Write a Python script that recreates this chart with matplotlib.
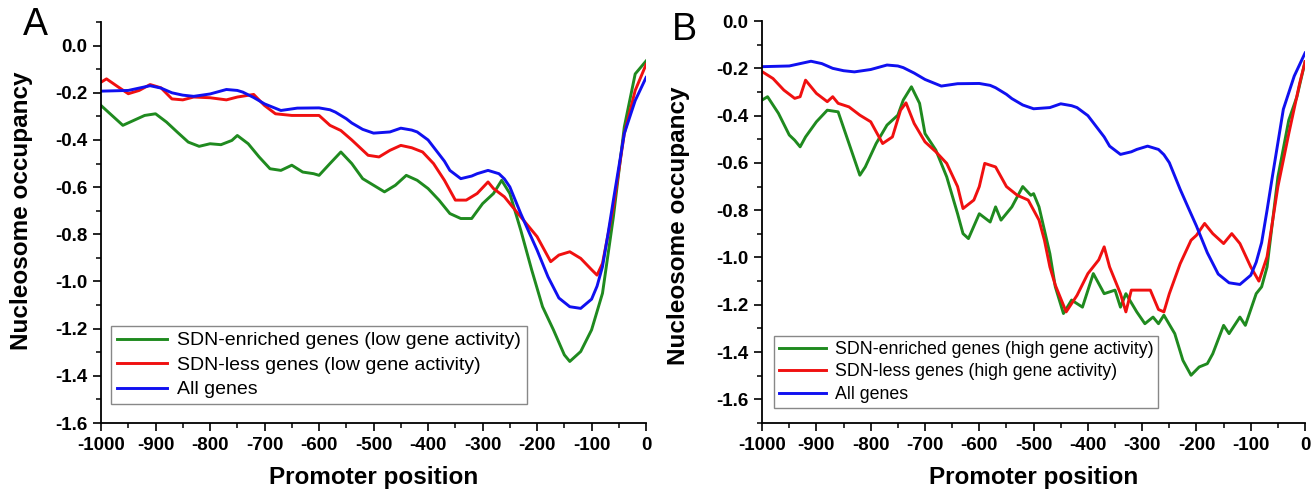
import matplotlib
matplotlib.use("Agg")
import matplotlib.pyplot as plt
from matplotlib.ticker import MultipleLocator

# promoter position / occupancy
all_x = [-1000, -950, -910, -890, -870, -850, -830, -800, -770, -750, -740, -720, -700, -670,
         -640, -600, -580, -570, -550, -540, -520, -500, -470, -450, -430, -420, -400, -390,
         -370, -360, -340, -320, -310, -290, -270, -260, -250, -230, -215, -200, -180, -160,
         -140, -120, -100, -90, -80, -70, -60, -40, -20, 0]
all_y = [-0.193, -0.19, -0.17, -0.18, -0.20, -0.21, -0.215, -0.205, -0.186, -0.19, -0.197,
         -0.22, -0.247, -0.275, -0.265, -0.264, -0.272, -0.282, -0.31, -0.328, -0.355, -0.371,
         -0.366, -0.35, -0.358, -0.366, -0.40, -0.43, -0.49, -0.529, -0.564, -0.553, -0.543,
         -0.529, -0.543, -0.565, -0.599, -0.712, -0.79, -0.867, -0.98, -1.07, -1.107, -1.114,
         -1.075, -1.02, -0.937, -0.80, -0.655, -0.373, -0.233, -0.135]

a_red_x = [-1000, -990, -970, -950, -930, -910, -890, -870, -850, -830, -800, -770, -750, -720,
           -700, -680, -650, -630, -600, -580, -560, -540, -510, -490, -470, -450, -430, -410,
           -390, -370, -350, -330, -310, -290, -280, -260, -240, -220, -200, -175, -160, -140,
           -120, -100, -90, -80, -60, -40, -20, 0]
a_red_y = [-0.155, -0.141, -0.173, -0.204, -0.19, -0.165, -0.179, -0.226, -0.23, -0.218, -0.221,
           -0.23, -0.218, -0.207, -0.254, -0.289, -0.296, -0.296, -0.296, -0.338, -0.36, -0.40,
           -0.465, -0.472, -0.444, -0.423, -0.433, -0.451, -0.50, -0.571, -0.655, -0.655, -0.627,
           -0.578, -0.606, -0.641, -0.698, -0.754, -0.81, -0.916, -0.888, -0.874, -0.902, -0.95,
           -0.973, -0.923, -0.684, -0.373, -0.19, -0.08]

a_green_x = [-1000, -980, -960, -940, -920, -900, -880, -860, -840, -820, -800, -780, -760, -750,
             -730, -710, -690, -670, -650, -630, -610, -600, -580, -560, -540, -520, -500, -480,
             -460, -440, -420, -400, -380, -360, -340, -320, -300, -280, -265, -250, -230, -210,
             -190, -170, -150, -140, -120, -100, -80, -60, -40, -20, 0]
a_green_y = [-0.254, -0.296, -0.338, -0.317, -0.296, -0.289, -0.324, -0.367, -0.409, -0.427, -0.416,
             -0.42, -0.402, -0.381, -0.416, -0.472, -0.522, -0.529, -0.507, -0.536, -0.543, -0.55,
             -0.50, -0.451, -0.50, -0.564, -0.592, -0.62, -0.592, -0.55, -0.571, -0.606, -0.655,
             -0.712, -0.733, -0.733, -0.67, -0.627, -0.571, -0.627, -0.782, -0.95, -1.107, -1.205,
             -1.311, -1.339, -1.297, -1.205, -1.05, -0.726, -0.345, -0.12, -0.065]

b_red_x = [-1000, -980, -960, -940, -930, -920, -900, -880, -870, -860, -840, -820, -800, -790,
           -778, -760, -745, -735, -720, -700, -680, -660, -640, -630, -610, -600, -590, -570,
           -550, -530, -510, -490, -480, -470, -460, -440, -420, -400, -380, -370, -360, -340,
           -330, -320, -300, -285, -270, -260, -250, -230, -210, -200, -185, -170, -150, -135,
           -120, -100, -85, -70, -50, -30, -10, 0]
b_red_y = [-0.214, -0.243, -0.292, -0.327, -0.32, -0.25, -0.306, -0.341, -0.32, -0.348, -0.363,
           -0.398, -0.426, -0.468, -0.518, -0.49, -0.377, -0.346, -0.433, -0.511, -0.553, -0.602,
           -0.70, -0.793, -0.757, -0.70, -0.602, -0.617, -0.70, -0.737, -0.757, -0.842, -0.927,
           -1.04, -1.117, -1.23, -1.16, -1.068, -1.01, -0.955, -1.04, -1.153, -1.23, -1.138,
           -1.138, -1.138, -1.22, -1.23, -1.153, -1.026, -0.927, -0.906, -0.856, -0.899, -0.941,
           -0.899, -0.941, -1.04, -1.10, -0.997, -0.70, -0.476, -0.264, -0.172]

b_green_x = [-1000, -990, -970, -950, -940, -930, -920, -900, -880, -860, -840, -820, -810, -790,
             -770, -750, -740, -725, -710, -700, -680, -660, -640, -630, -620, -600, -580, -570,
             -560, -540, -520, -505, -500, -490, -470, -460, -445, -430, -410, -390, -370, -350,
             -340, -330, -310, -295, -280, -270, -260, -240, -225, -210, -195, -180, -170, -150,
             -140, -120, -110, -90, -80, -70, -50, -30, -15, 0]
b_green_y = [-0.334, -0.32, -0.39, -0.482, -0.504, -0.532, -0.49, -0.426, -0.377, -0.384, -0.518,
             -0.652, -0.617, -0.518, -0.44, -0.398, -0.334, -0.278, -0.348, -0.476, -0.546, -0.659,
             -0.815, -0.899, -0.92, -0.815, -0.85, -0.786, -0.842, -0.786, -0.70, -0.737, -0.73,
             -0.786, -0.984, -1.124, -1.237, -1.18, -1.21, -1.068, -1.153, -1.138, -1.21, -1.153,
             -1.23, -1.28, -1.252, -1.28, -1.244, -1.322, -1.435, -1.498, -1.463, -1.449, -1.407,
             -1.287, -1.322, -1.252, -1.287, -1.153, -1.124, -1.04, -0.659, -0.419, -0.32, -0.172]

x_ticks = list(range(-1000, 1, 100))
y_ticks = [0.0, -0.2, -0.4, -0.6, -0.8, -1.0, -1.2, -1.4, -1.6]

GREEN = "#1f8a1f"
RED = "#f01010"
BLUE = "#1010f0"

plt.rcParams["font.family"] = ["Liberation Sans", "DejaVu Sans"]

fig = plt.figure(figsize=(13.14, 4.94), dpi=100)
axA = fig.add_axes([0.0769, 0.1437, 0.4148, 0.8117])
axB = fig.add_axes([0.5800, 0.1437, 0.4132, 0.8137])


def style_axis(ax, ylim, ylab_pos):
    ax.set_xlim(-1000, 0)
    ax.set_ylim(*ylim)
    ax.set_xticks(x_ticks)
    ax.set_xticklabels([str(v) for v in x_ticks])
    ax.set_yticks(y_ticks)
    ax.set_yticklabels([f"{v:.1f}" for v in y_ticks])
    ax.xaxis.set_minor_locator(MultipleLocator(50))
    ax.yaxis.set_minor_locator(MultipleLocator(0.1))
    for side in ["top", "right"]:
        ax.spines[side].set_visible(False)
    for side in ["left", "bottom"]:
        ax.spines[side].set_linewidth(1.3)
    ax.tick_params(which="major", direction="out", length=6, width=1.2, labelsize=13.5, pad=4)
    ax.tick_params(which="minor", direction="out", length=3.5, width=1.1)
    for lab in ax.get_xticklabels() + ax.get_yticklabels():
        lab.set_fontweight("bold")
    ax.set_xlabel("Promoter position", fontsize=17.5, fontweight="bold", labelpad=9)
    ax.set_ylabel("Nucleosome occupancy", fontsize=17.5, fontweight="bold")
    ax.yaxis.set_label_coords(*ylab_pos)


def add_legend(ax, anchor, size, spacing):
    leg = ax.legend(loc="lower left", bbox_to_anchor=anchor, borderaxespad=0, fontsize=size,
                    handlelength=2.6, labelspacing=spacing, borderpad=0.3, handletextpad=0.5,
                    fancybox=False, framealpha=1)
    leg.get_frame().set_edgecolor("#888888")
    leg.get_frame().set_linewidth(1.0)


axA.plot(a_green_x, a_green_y, color=GREEN, lw=2.1, label="SDN-enriched genes (low gene activity)")
axA.plot(a_red_x, a_red_y, color=RED, lw=2.1, label="SDN-less genes (low gene activity)")
axA.plot(all_x, all_y, color=BLUE, lw=2.1, label="All genes")
style_axis(axA, (-1.6, 0.1), (-0.125, 0.53))
add_legend(axA, (0.018, 0.047), 14, 0.35)

axB.plot(b_green_x, b_green_y, color=GREEN, lw=2.1, label="SDN-enriched genes (high gene activity)")
axB.plot(b_red_x, b_red_y, color=RED, lw=2.1, label="SDN-less genes (high gene activity)")
axB.plot(all_x, all_y, color=BLUE, lw=2.1, label="All genes")
style_axis(axB, (-1.7, 0.0), (-0.133, 0.49))
add_legend(axB, (0.022, 0.037), 12.8, 0.3)

fig.text(35 / 1314, 1 - 25 / 494, "A", fontsize=27, ha="center", va="center")
fig.text(684 / 1314, 1 - 30 / 494, "B", fontsize=27, ha="center", va="center")

fig.savefig("out.png", dpi=100)
